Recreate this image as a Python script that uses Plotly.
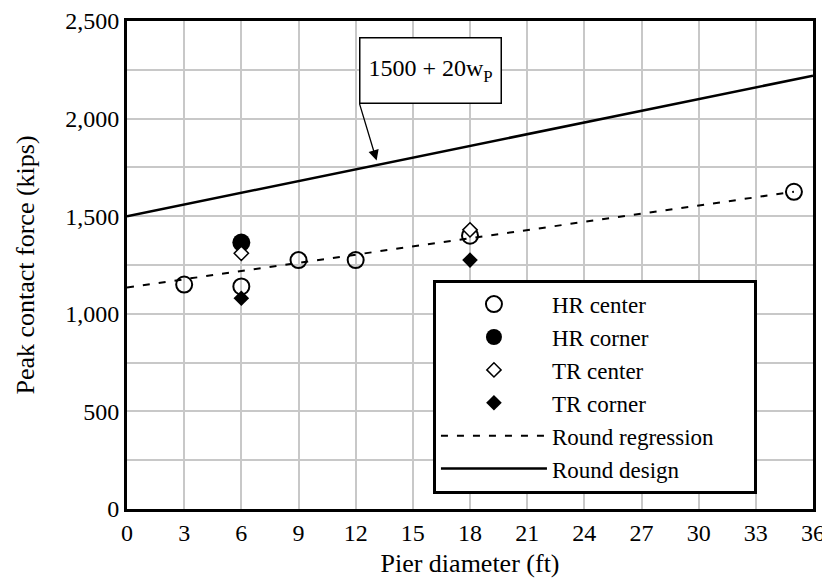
import plotly.graph_objects as go

# Data
hr_center_x = [3, 6, 9, 12, 18, 35]
hr_center_y = [1150, 1140, 1275, 1275, 1400, 1625]
hr_corner_x = [6]
hr_corner_y = [1365]
tr_center_x = [6, 18]
tr_center_y = [1310, 1430]
tr_corner_x = [6, 18]
tr_corner_y = [1080, 1275]
reg_x = [0, 35]
reg_y = [1135, 1625]
design_x = [0, 36]
design_y = [1500, 2220]

x_ticks = list(range(0, 37, 3))
y_ticks = list(range(0, 2501, 500))

FONT = "Liberation Serif"
PAD = "\u00a0" * 6
fig = go.Figure()

fig.add_trace(go.Scatter(x=reg_x, y=reg_y, mode="lines", name="Round regression" + PAD, legendrank=5,
                         line=dict(color="black", width=2, dash="7px,9px")))
fig.add_trace(go.Scatter(x=design_x, y=design_y, mode="lines", name="Round design", legendrank=6,
                         line=dict(color="black", width=2.5)))
fig.add_trace(go.Scatter(x=hr_center_x, y=hr_center_y, mode="markers", name="HR center", legendrank=1,
                         marker=dict(symbol="circle-open", size=16, color="black", line=dict(width=2, color="black"))))
fig.add_trace(go.Scatter(x=hr_corner_x, y=hr_corner_y, mode="markers", name="HR corner", legendrank=2,
                         marker=dict(symbol="circle", size=18, color="black")))
fig.add_trace(go.Scatter(x=tr_center_x, y=tr_center_y, mode="markers", name="TR center", legendrank=3,
                         marker=dict(symbol="diamond", size=11, color="white", line=dict(width=1.5, color="black"))))
fig.add_trace(go.Scatter(x=tr_corner_x, y=tr_corner_y, mode="markers", name="TR corner", legendrank=4,
                         marker=dict(symbol="diamond", size=12, color="black")))

fig.update_layout(
    width=822, height=578,
    margin=dict(l=119, r=17, t=13, b=77, autoexpand=False),
    paper_bgcolor="white", plot_bgcolor="white",
    font=dict(family=FONT, size=24, color="black"),
    showlegend=True,
    legend=dict(
        x=0.446, y=0.47, xanchor="left", yanchor="top",
        bgcolor="white", bordercolor="black", borderwidth=3,
        font=dict(family=FONT, size=23, color="black"),
        itemwidth=106, tracegroupgap=0, traceorder="normal",
    ),
    xaxis=dict(
        range=[0, 36], tickvals=x_ticks, ticktext=[str(v) for v in x_ticks],
        showgrid=True, gridcolor="#c8c8c8", gridwidth=2,
        showline=True, linecolor="black", linewidth=3, mirror=True,
        ticks="", zeroline=False, automargin=False, ticklabeloverflow="allow",
        title=dict(text="Pier diameter (ft)", font=dict(size=26), standoff=10),
        tickfont=dict(size=24),
    ),
    yaxis=dict(
        range=[0, 2500], tickvals=y_ticks, ticktext=[f"{v:,}" for v in y_ticks],
        showgrid=True, gridcolor="#c8c8c8", gridwidth=2,
        minor=dict(dtick=250, showgrid=True, gridcolor="#c8c8c8", gridwidth=2, ticks=""),
        showline=True, linecolor="black", linewidth=3, mirror=True,
        ticks="", zeroline=False, automargin=False, ticklabeloverflow="allow",
        title=dict(text="Peak contact force (kips)", font=dict(size=26), standoff=24),
        tickfont=dict(size=24),
    ),
)

fig.add_annotation(x=13.1, y=1785, xref="x", yref="y", ax=12.2, ay=2077, axref="x", ayref="y",
                   xanchor="left", yanchor="bottom",
                   text="1500 + 20w<sub>P</sub>", showarrow=True,
                   arrowhead=2, arrowsize=1.6, arrowwidth=1.3, arrowcolor="black",
                   bgcolor="white", bordercolor="black", borderwidth=1.5, borderpad=4,
                   width=132, height=56,
                   font=dict(family=FONT, size=24, color="black"))

fig.write_html("out.html")
